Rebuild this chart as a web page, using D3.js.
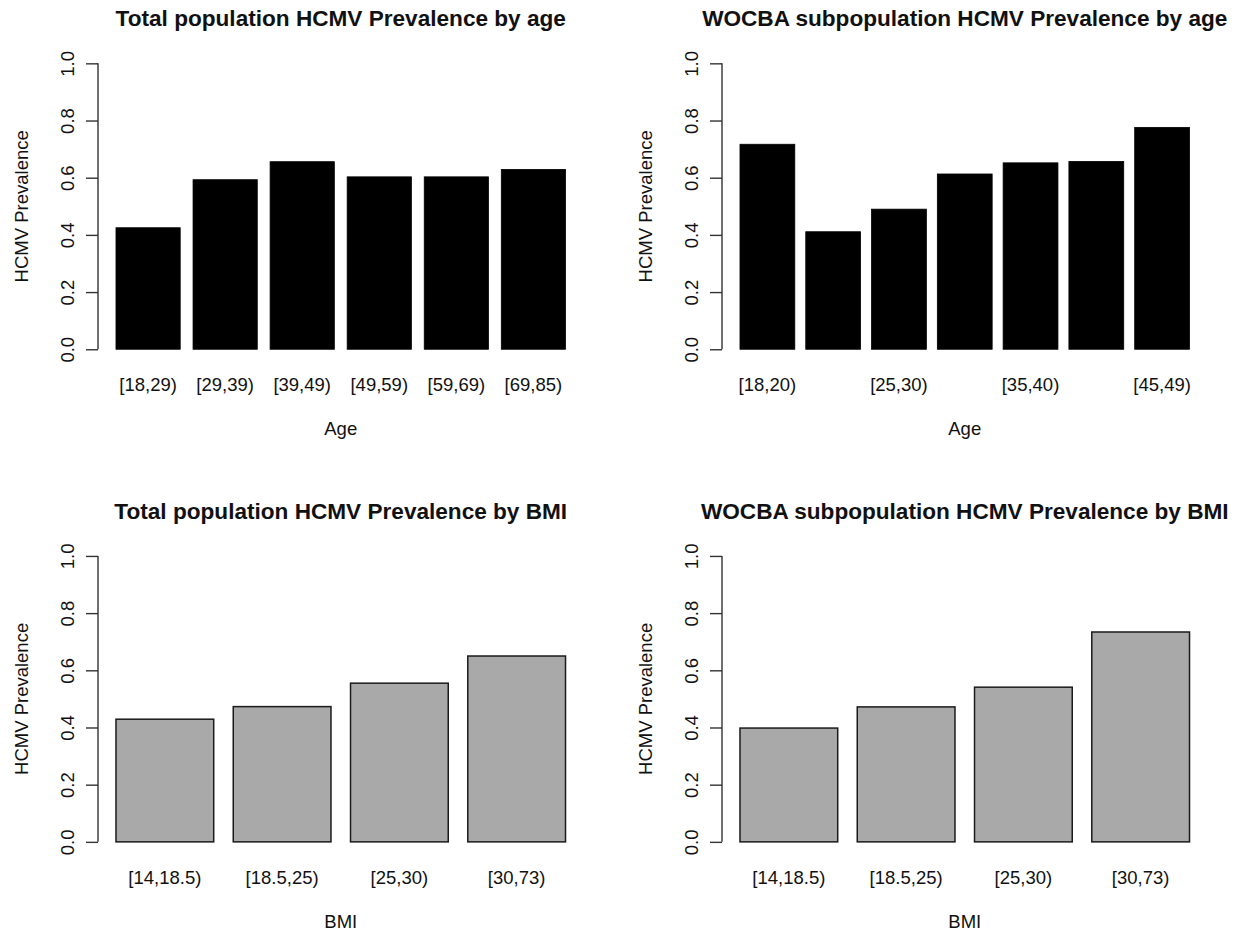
<!DOCTYPE html>
<html>
<head>
<meta charset="utf-8">
<script src="https://cdn.jsdelivr.net/npm/d3@7"></script>
<style>
  body { margin: 0; background: #fff; }
  svg { display: block; }
  text { font-family: "Liberation Sans", Arial, sans-serif; fill: #111; }
</style>
</head>
<body>
<svg id="chart" width="1235" height="934"></svg>
<script>
// HCMV prevalence by age group and BMI class, total population vs WOCBA subpopulation
const ageTotalCats = ["[18,29)", "[29,39)", "[39,49)", "[49,59)", "[59,69)", "[69,85)"];
const ageTotalVals = [0.425, 0.593, 0.656, 0.603, 0.603, 0.629];

const ageWocbaCats = ["[18,20)", "[20,25)", "[25,30)", "[30,35)", "[35,40)", "[40,45)", "[45,49)"];
const ageWocbaVals = [0.717, 0.411, 0.490, 0.613, 0.652, 0.657, 0.776];

const bmiCats = ["[14,18.5)", "[18.5,25)", "[25,30)", "[30,73)"];
const bmiTotalVals = [0.429, 0.473, 0.555, 0.650];
const bmiWocbaVals = [0.398, 0.472, 0.541, 0.734];

const yTicks = [0, 0.2, 0.4, 0.6, 0.8, 1.0];

const panels = [
  { title: "Total population HCMV Prevalence by age", xTitle: "Age", cats: ageTotalCats, vals: ageTotalVals, fill: "#000000", stroke: "#000000", col: 0, row: 0 },
  { title: "WOCBA subpopulation HCMV Prevalence by age", xTitle: "Age", cats: ageWocbaCats, vals: ageWocbaVals, fill: "#000000", stroke: "#000000", col: 1, row: 0 },
  { title: "Total population HCMV Prevalence by BMI", xTitle: "BMI", cats: bmiCats, vals: bmiTotalVals, fill: "#a9a9a9", stroke: "#1a1a1a", col: 0, row: 1 },
  { title: "WOCBA subpopulation HCMV Prevalence by BMI", xTitle: "BMI", cats: bmiCats, vals: bmiWocbaVals, fill: "#a9a9a9", stroke: "#1a1a1a", col: 1, row: 1 }
];

const svg = d3.select("#chart");
const baseFont = 18.5;
const titleFont = 22.6;

// plot region of the first panel; the others are shifted copies
const plot = { left: 98, right: 583.5, top: 51.9, bottom: 360.7 };
const colShift = 624;
const rowShift = 492.6;

panels.forEach(p => {
  const ox = p.col * colShift;
  const oy = p.row * rowShift;
  const L = plot.left + ox, R = plot.right + ox;
  const T = plot.top + oy, B = plot.bottom + oy;
  const n = p.cats.length;

  // bar layout: unit-width bars with 0.2 gaps, 4% expansion on each side
  const span = 1.2 * n - 0.2;
  const ext = 0.04 * span;
  const unit = (R - L) / (span + 2 * ext);
  const x = d3.scaleBand()
    .domain(p.cats)
    .range([L + (ext - 0.1) * unit, R - (ext - 0.1) * unit])
    .paddingInner(1 / 6)
    .paddingOuter(1 / 12);

  const y = d3.scaleLinear().domain([-0.04, 1.04]).range([B, T]);

  const g = svg.append("g");

  // bars
  g.selectAll("rect.bar")
    .data(p.cats.map((c, i) => ({ c, v: p.vals[i] })))
    .join("rect")
    .attr("class", "bar")
    .attr("x", d => x(d.c))
    .attr("width", x.bandwidth())
    .attr("y", d => y(d.v))
    .attr("height", d => y(0) - y(d.v))
    .attr("fill", p.fill)
    .attr("stroke", p.stroke)
    .attr("stroke-width", p.fill === "#000000" ? 0.8 : 1.5);

  // y axis
  const yAxis = d3.axisLeft(y)
    .tickValues(yTicks)
    .tickSize(12)
    .tickFormat(d3.format(".1f"));
  const ya = g.append("g")
    .attr("transform", `translate(${L},0)`)
    .call(yAxis);
  ya.select(".domain").remove();
  ya.selectAll(".tick line").attr("stroke", "#333").attr("stroke-width", 1.4);
  ya.append("line")
    .attr("x1", 0).attr("x2", 0)
    .attr("y1", y(0)).attr("y2", y(1))
    .attr("stroke", "#333").attr("stroke-width", 1.4);
  ya.selectAll(".tick text")
    .attr("x", 0).attr("y", 0).attr("dy", 0)
    .attr("text-anchor", "middle")
    .attr("transform", "translate(-24,0) rotate(-90)")
    .style("font-size", baseFont + "px")
    .style("font-family", "'Liberation Sans', Arial, sans-serif")
    .attr("fill", "#222");

  // category labels, skipping any that would crowd the previous one
  const lab = g.append("g");
  const gap = baseFont * 0.833;
  let lastRight = -Infinity;
  p.cats.forEach(c => {
    const cx = x(c) + x.bandwidth() / 2;
    const t = lab.append("text")
      .attr("x", cx)
      .attr("y", 391 + oy)
      .attr("text-anchor", "middle")
      .style("font-size", baseFont + "px")
      .attr("fill", "#222")
      .text(c);
    const w = t.node().getComputedTextLength();
    if (cx - w / 2 < lastRight + gap) {
      t.remove();
    } else {
      lastRight = cx + w / 2;
    }
  });

  // axis titles
  g.append("text")
    .attr("x", (L + R) / 2)
    .attr("y", 435 + oy)
    .attr("text-anchor", "middle")
    .style("font-size", baseFont + "px")
    .attr("fill", "#222")
    .text(p.xTitle);

  g.append("text")
    .attr("transform", `translate(${28 + ox},${(y(-0.04) + y(1.04)) / 2}) rotate(-90)`)
    .attr("text-anchor", "middle")
    .style("font-size", baseFont + "px")
    .attr("fill", "#222")
    .text("HCMV Prevalence");

  // panel title
  g.append("text")
    .attr("x", (L + R) / 2)
    .attr("y", 26 + oy)
    .attr("text-anchor", "middle")
    .style("font-size", titleFont + "px")
    .style("font-weight", "bold")
    .attr("fill", "#000")
    .text(p.title);
});
</script>
</body>
</html>
